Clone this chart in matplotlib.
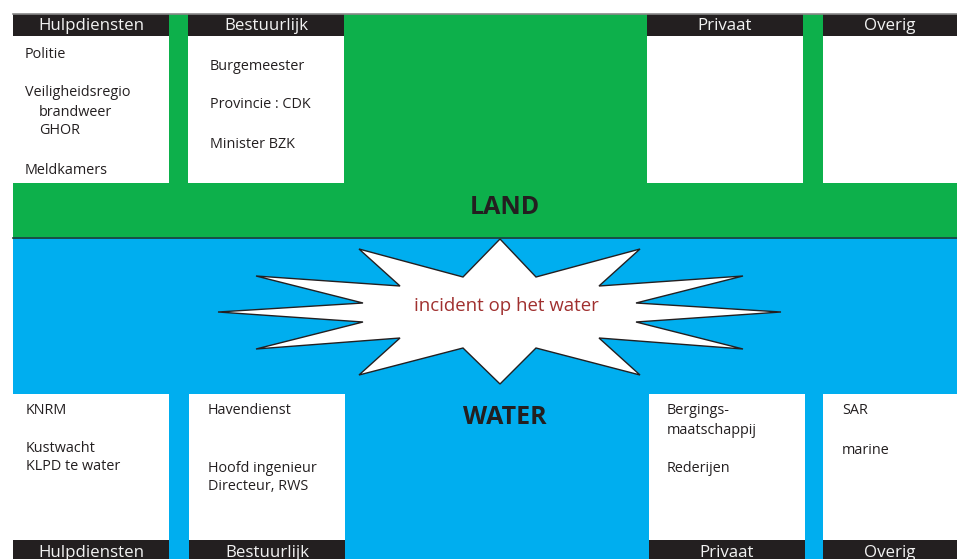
import matplotlib.pyplot as plt
from matplotlib.patches import Rectangle, Polygon

plt.rcParams['font.family'] = ['Open Sans', 'DejaVu Sans']

# categories (same on land and water side)
categories = ['Hulpdiensten', 'Bestuurlijk', 'Privaat', 'Overig']

# items per column: (text, indent, y)
land_items = [
    [('Politie', 0, 54), ('Veiligheidsregio', 0, 92), ('brandweer', 14, 111),
     ('GHOR', 14, 130), ('Meldkamers', 0, 169)],
    [('Burgemeester', 0, 66), ('Provincie : CDK', 0, 104), ('Minister BZK', 0, 143)],
    [],
    [],
]
water_items = [
    [('KNRM', 0, 409), ('Kustwacht', 0, 447), ('KLPD te water', 0, 466)],
    [('Havendienst', 0, 409), ('Hoofd ingenieur', 0, 467), ('Directeur, RWS', 0, 486)],
    [('Bergings-', 0, 410), ('maatschappij', 0, 430), ('Rederijen', 0, 468)],
    [('SAR', 0, 410), ('marine', 0, 449)],
]
land_label = 'LAND'
water_label = 'WATER'
incident_label = 'incident op het water'

# explosion star outline
star = [(500, 239), (536, 277), (640, 249), (599, 286), (743, 276), (636, 303),
        (781, 312), (636, 322), (743, 349), (599, 338), (640, 375), (536, 348),
        (500, 384), (463, 348), (359, 375), (400, 338), (256, 349), (363, 322),
        (218, 312), (363, 303), (256, 276), (400, 286), (359, 249), (463, 277)]

GREEN = '#0db04b'
BLUE = '#00aeef'
DARK = '#231f20'
RED = '#a0302f'

fig = plt.figure(figsize=(9.57, 5.59), dpi=100)
ax = fig.add_axes([0, 0, 1, 1])
ax.set_xlim(0, 957)
ax.set_ylim(559, 0)
ax.axis('off')

# background bands
ax.add_patch(Rectangle((13, 14), 944, 223, color=GREEN, lw=0))
ax.add_patch(Rectangle((13, 237), 944, 322, color=BLUE, lw=0))
ax.plot([13, 957], [13.5, 13.5], color='#888888', lw=1.2)
ax.plot([13, 957], [237.5, 237.5], color='#1d3d2a', lw=1.2)

top_cols = [(13, 169), (188, 344), (647, 803), (823, 957)]
bot_cols = [(13, 169), (189, 345), (649, 805), (823, 957)]
text_x = [25, 210, 667, 842]
bot_text_x = [26, 208, 667, 842]

for i, name in enumerate(categories):
    # land side
    x0, x1 = top_cols[i]
    ax.add_patch(Rectangle((x0, 14), x1 - x0, 22, color=DARK, lw=0))
    ax.add_patch(Rectangle((x0, 36), x1 - x0, 147, color='white', lw=0))
    ax.text((x0 + x1) / 2, 26, name, color='#f2f2f2', fontsize=12.2,
            ha='center', va='center')
    for txt, ind, y in land_items[i]:
        ax.text(text_x[i] + ind, y + 1, txt, color=DARK, fontsize=10.4,
                ha='left', va='center')
    # water side
    x0, x1 = bot_cols[i]
    ax.add_patch(Rectangle((x0, 394), x1 - x0, 146, color='white', lw=0))
    ax.add_patch(Rectangle((x0, 540), x1 - x0, 19, color=DARK, lw=0))
    ax.text((x0 + x1) / 2, 553, name, color='#f2f2f2', fontsize=12.2,
            ha='center', va='center')
    for txt, ind, y in water_items[i]:
        ax.text(bot_text_x[i] + ind, y + 1, txt, color=DARK, fontsize=10.4,
                ha='left', va='center')

ax.text(505, 208, land_label, color=DARK, fontsize=18, fontweight='bold',
        ha='center', va='center')
ax.text(505, 417, water_label, color=DARK, fontsize=18, fontweight='bold',
        ha='center', va='center')

ax.add_patch(Polygon(star, closed=True, facecolor='white', edgecolor=DARK,
                     lw=1, joinstyle='miter'))
ax.text(506, 306, incident_label, color=RED, fontsize=13.4,
        ha='center', va='center')

fig.savefig('out.png', dpi=100)
